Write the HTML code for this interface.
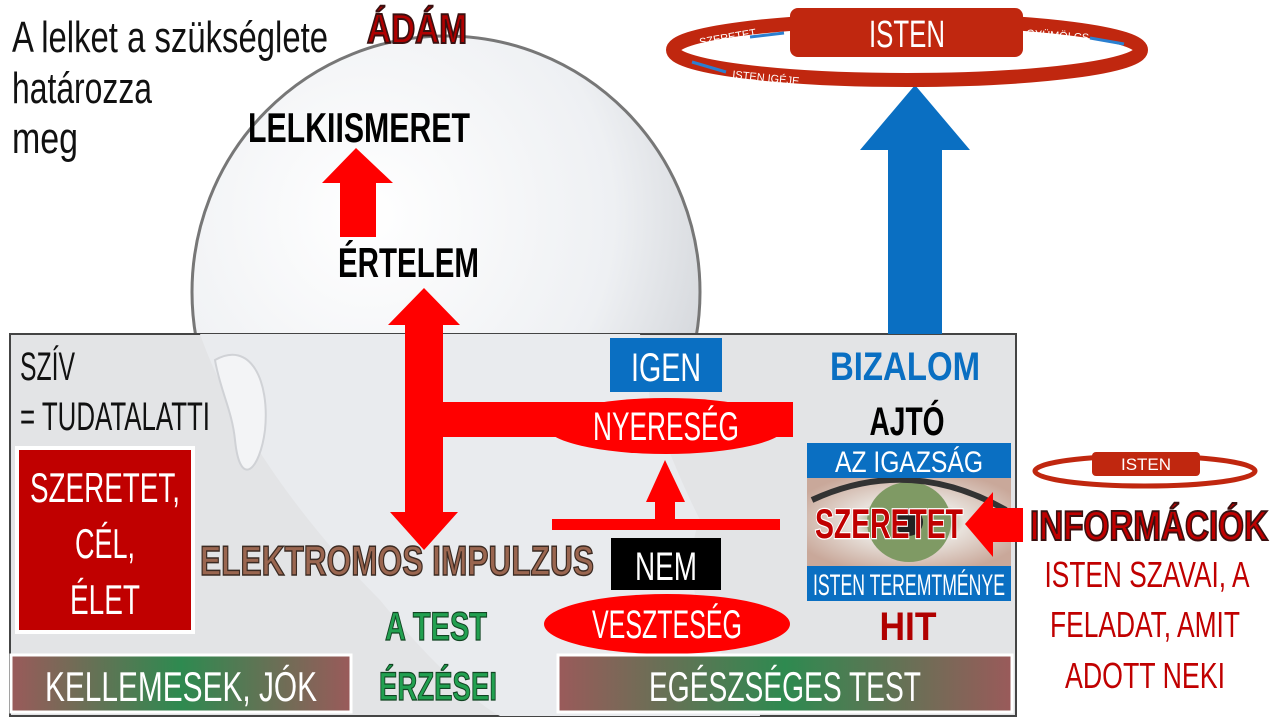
<!DOCTYPE html>
<html><head><meta charset="utf-8"><style>
html,body{margin:0;padding:0;background:#fff;width:1280px;height:720px;overflow:hidden}
svg{display:block}
text{font-family:"Liberation Sans Narrow","Liberation Sans",sans-serif}
</style></head><body>
<svg width="1280" height="720" viewBox="0 0 1280 720" xmlns="http://www.w3.org/2000/svg">
<defs>
<radialGradient id="hg" cx="0.35" cy="0.35" r="0.8">
<stop offset="0" stop-color="#ffffff"/><stop offset="0.6" stop-color="#eef0f3"/><stop offset="1" stop-color="#c9ccd1"/>
</radialGradient>
<linearGradient id="bg1" x1="0" x2="1">
<stop offset="0" stop-color="#9a5a5a"/><stop offset="0.5" stop-color="#2e8a50"/><stop offset="1" stop-color="#9a5a5a"/>
</linearGradient>
<radialGradient id="eye" cx="0.5" cy="0.5" r="0.6">
<stop offset="0" stop-color="#6d8a55"/><stop offset="0.25" stop-color="#94a878"/><stop offset="0.45" stop-color="#e8e2dc"/><stop offset="1" stop-color="#c9a89a"/>
</radialGradient>
</defs>

<ellipse cx="446" cy="292" rx="254" ry="256" fill="url(#hg)" stroke="#777" stroke-width="3"/>

<rect x="10" y="334" width="1006" height="382" fill="#e3e4e6" stroke="#444" stroke-width="2"/>
<path d="M200 334 C230 420 300 520 380 600 C420 650 470 700 500 716 L760 716 C760 690 720 660 700 620 C690 580 690 540 700 520 C680 480 660 430 650 400 L640 334 Z" fill="#e9ebee"/>
<path d="M215 360 C250 340 270 380 265 430 C260 470 240 490 235 440 C232 410 220 390 215 360 Z" fill="#f3f4f6" stroke="#d0d2d6" stroke-width="2"/>

<g font-size="44" fill="#111">
<text x="12" y="52" textLength="316" lengthAdjust="spacingAndGlyphs">A lelket a szükséglete</text>
<text x="12" y="103" textLength="140" lengthAdjust="spacingAndGlyphs">határozza</text>
<text x="12" y="153" textLength="66" lengthAdjust="spacingAndGlyphs">meg</text>
</g>
<text x="367" y="43" font-size="42" font-weight="bold" fill="#b00000" stroke="#3a1010" stroke-width="2" textLength="100" lengthAdjust="spacingAndGlyphs">ÁDÁM</text>
<text x="248" y="142" font-size="42" font-weight="bold" fill="#000" textLength="222" lengthAdjust="spacingAndGlyphs">LELKIISMERET</text>
<text x="338" y="277" font-size="42" font-weight="bold" fill="#000" textLength="141" lengthAdjust="spacingAndGlyphs">ÉRTELEM</text>

<polygon points="356,148 393,183 376,183 376,237 340,237 340,183 322,183" fill="#f00"/>

<polygon points="424,288 460,325 443,325 443,512 458,512 424,550 390,512 405,512 405,325 388,325" fill="#f00"/>
<rect x="405" y="402" width="388" height="35" fill="#f00"/>

<rect x="610" y="338" width="112" height="54" fill="#0a6fc2"/>
<text x="666" y="381" font-size="40" fill="#fff" text-anchor="middle" textLength="70" lengthAdjust="spacingAndGlyphs">IGEN</text>
<ellipse cx="666" cy="426" rx="120" ry="28" fill="#f00"/>
<text x="666" y="440" font-size="40" fill="#fff" text-anchor="middle" textLength="146" lengthAdjust="spacingAndGlyphs">NYERESÉG</text>
<polygon points="665,460 685,502 675,502 675,520 655,520 655,502 646,502" fill="#f00"/>
<rect x="552" y="519" width="228" height="11" fill="#f00"/>
<rect x="611" y="538" width="110" height="52" fill="#000"/>
<text x="666" y="580" font-size="40" fill="#fff" text-anchor="middle" textLength="62" lengthAdjust="spacingAndGlyphs">NEM</text>
<ellipse cx="667" cy="624" rx="123" ry="30" fill="#f00"/>
<text x="667" y="638" font-size="40" fill="#fff" text-anchor="middle" textLength="150" lengthAdjust="spacingAndGlyphs">VESZTESÉG</text>

<g font-size="40" fill="#111">
<text x="20" y="380" textLength="55" lengthAdjust="spacingAndGlyphs">SZÍV</text>
<text x="20" y="430" textLength="190" lengthAdjust="spacingAndGlyphs">= TUDATALATTI</text>
</g>
<rect x="17" y="448" width="176" height="184" fill="#c00000" stroke="#fff" stroke-width="4"/>
<g font-size="42" fill="#fff" text-anchor="middle">
<text x="105" y="502" textLength="150" lengthAdjust="spacingAndGlyphs">SZERETET,</text>
<text x="105" y="558" textLength="60" lengthAdjust="spacingAndGlyphs">CÉL,</text>
<text x="105" y="614" textLength="70" lengthAdjust="spacingAndGlyphs">ÉLET</text>
</g>
<text x="200" y="575" font-size="42" font-weight="bold" fill="#9a6650" stroke="#3a2a22" stroke-width="1.5" textLength="394" lengthAdjust="spacingAndGlyphs">ELEKTROMOS IMPULZUS</text>
<text x="436" y="640" font-size="40" font-weight="bold" fill="#22a050" stroke="#114422" stroke-width="1.2" text-anchor="middle" textLength="102" lengthAdjust="spacingAndGlyphs">A TEST</text>
<text x="438" y="700" font-size="40" font-weight="bold" fill="#22a050" stroke="#114422" stroke-width="1.2" text-anchor="middle" textLength="118" lengthAdjust="spacingAndGlyphs">ÉRZÉSEI</text>

<rect x="11" y="655" width="340" height="57" fill="url(#bg1)" stroke="#fff" stroke-width="3"/>
<text x="181" y="701" font-size="42" fill="#fff" text-anchor="middle" textLength="272" lengthAdjust="spacingAndGlyphs">KELLEMESEK, JÓK</text>
<rect x="558" y="655" width="454" height="57" fill="url(#bg1)" stroke="#fff" stroke-width="3"/>
<text x="785" y="701" font-size="42" fill="#fff" text-anchor="middle" textLength="272" lengthAdjust="spacingAndGlyphs">EGÉSZSÉGES TEST</text>

<text x="905" y="380" font-size="40" font-weight="bold" fill="#0a6fc2" text-anchor="middle" textLength="150" lengthAdjust="spacingAndGlyphs">BIZALOM</text>
<text x="907" y="435" font-size="40" font-weight="bold" fill="#000" text-anchor="middle" textLength="75" lengthAdjust="spacingAndGlyphs">AJTÓ</text>
<rect x="807" y="478" width="204" height="88" fill="url(#eye)"/>
<ellipse cx="909" cy="522" rx="42" ry="40" fill="#7f9a64"/>
<circle cx="909" cy="522" r="14" fill="#222"/>
<path d="M812 500 Q909 455 1006 510" stroke="#333" stroke-width="6" fill="none"/>
<rect x="807" y="443" width="204" height="35" fill="#0a6fc2"/>
<text x="909" y="472" font-size="30" fill="#fff" text-anchor="middle" textLength="148" lengthAdjust="spacingAndGlyphs">AZ IGAZSÁG</text>
<rect x="807" y="566" width="204" height="35" fill="#0a6fc2"/>
<text x="909" y="595" font-size="30" fill="#fff" text-anchor="middle" textLength="192" lengthAdjust="spacingAndGlyphs">ISTEN TEREMTMÉNYE</text>
<text x="889" y="538" font-size="42" font-weight="bold" fill="#c00000" stroke="#fff" stroke-width="2.5" paint-order="stroke" text-anchor="middle" textLength="148" lengthAdjust="spacingAndGlyphs">SZERETET</text>
<text x="908" y="640" font-size="40" font-weight="bold" fill="#b00000" text-anchor="middle" textLength="57" lengthAdjust="spacingAndGlyphs">HIT</text>

<polygon points="965,524 993,492 993,508 1023,508 1023,542 993,542 993,557" fill="#f00"/>

<polygon points="915,85 970,150 942,150 942,334 888,334 888,150 860,150" fill="#0a6fc2"/>

<!-- top ring -->
<ellipse cx="907" cy="50" rx="234" ry="30" fill="none" stroke="#c0270f" stroke-width="14"/>
<rect x="790" y="8" width="233" height="49" rx="8" fill="#c0270f"/>
<text x="907" y="47" font-size="38" fill="#fff" text-anchor="middle" textLength="76" lengthAdjust="spacingAndGlyphs">ISTEN</text>
<text x="700" y="46" font-size="11" fill="#fff" transform="rotate(-10 700 46)">SZERETET</text>
<text x="1026" y="37" font-size="11" fill="#fff" transform="rotate(4 1026 37)">GYÜMÖLCS</text>
<text x="732" y="78" font-size="11" fill="#fff" transform="rotate(6 732 78)">ISTEN IGÉJE</text>
<line x1="750" y1="37" x2="784" y2="33" stroke="#2a7fd0" stroke-width="3"/>
<line x1="1090" y1="38" x2="1124" y2="44" stroke="#2a7fd0" stroke-width="3"/>
<line x1="692" y1="62" x2="726" y2="72" stroke="#2a7fd0" stroke-width="3"/>

<ellipse cx="1145" cy="471" rx="110" ry="15" fill="none" stroke="#c0270f" stroke-width="5"/>
<rect x="1092" y="452" width="108" height="24" rx="4" fill="#c0270f"/>
<text x="1146" y="470" font-size="17" fill="#fff" text-anchor="middle">ISTEN</text>

<text x="1030" y="540" font-size="42" font-weight="bold" fill="#c00000" stroke="#3a1010" stroke-width="2" textLength="238" lengthAdjust="spacingAndGlyphs">INFORMÁCIÓK</text>
<g font-size="36" fill="#c00000" text-anchor="middle">
<text x="1147" y="587" textLength="205" lengthAdjust="spacingAndGlyphs">ISTEN SZAVAI, A</text>
<text x="1145" y="637" textLength="190" lengthAdjust="spacingAndGlyphs">FELADAT, AMIT</text>
<text x="1145" y="688" textLength="160" lengthAdjust="spacingAndGlyphs">ADOTT NEKI</text>
</g>
</svg>
</body></html>
